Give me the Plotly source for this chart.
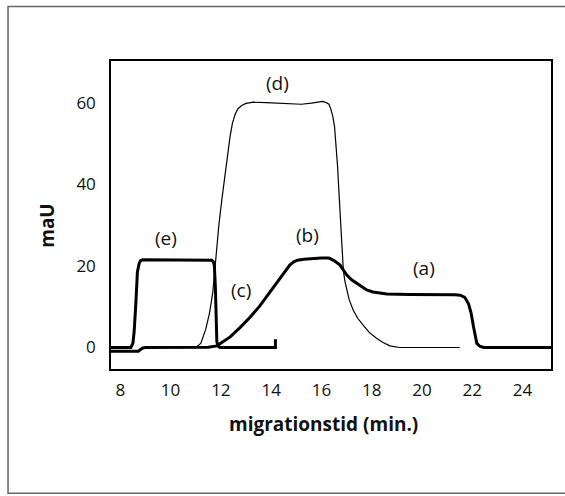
import plotly.graph_objects as go

# --- data ---
abc_x = [7.63, 8.72, 8.8, 8.9, 9.0, 11.0, 11.5, 11.84, 12.1, 12.37, 12.75, 13.16, 13.55, 13.95, 14.35,
         14.74, 14.9, 15.05, 15.3, 15.6, 16.0, 16.3, 16.5, 16.74, 17.0, 17.2, 17.4, 17.6, 17.8, 18.05,
         18.33, 18.6, 19.5, 20.5, 21.3, 21.52, 21.7, 21.85, 21.95, 22.05, 22.12, 22.18, 22.3, 22.45, 25.13]
abc_y = [-0.9, -0.9, -0.5, -0.1, 0, 0, 0.05, 0.4, 1.4, 2.6, 4.8, 7.4, 10.2, 13.6, 17.0,
         20.2, 21.0, 21.4, 21.6, 21.8, 21.9, 21.9, 21.3, 20.2, 17.8, 16.6, 15.7, 14.9, 14.1, 13.6,
         13.3, 13.1, 13.0, 13.0, 12.9, 12.8, 12.3, 10.7, 8.5, 5.0, 2.8, 1.0, 0.3, 0, 0]

e_x = [7.63, 8.42, 8.5, 8.55, 8.62, 8.68, 8.75, 8.81, 8.9, 9.1, 11.5, 11.64, 11.7, 11.74, 11.78,
       11.8, 11.84, 11.9, 11.97, 14.17, 14.17]
e_y = [0, 0, 1.0, 3.8, 11, 18.5, 20.6, 21.3, 21.5, 21.5, 21.5, 21.4, 21.0, 20.1, 15,
       10.3, 1.4, 0.3, 0, 0, 2.0]

d_x = [11.0, 11.2, 11.4, 11.55, 11.68, 11.8, 11.92, 12.04, 12.15, 12.25, 12.36, 12.46, 12.57, 12.68,
       12.83, 13.0, 13.3, 13.8, 14.3, 14.75, 15.2, 15.6, 15.85, 16.05, 16.19, 16.3, 16.38, 16.45,
       16.52, 16.58, 16.64, 16.69, 16.75, 16.8, 16.87, 16.93, 17.0, 17.1, 17.26, 17.45, 17.66, 17.9,
       18.19, 18.45, 18.72, 19.1, 21.5]
d_y = [0, 1.0, 4.5, 8.5, 13.6, 22, 30, 36.3, 41.5, 46.9, 51.5, 55, 57.2, 58.5,
       59.3, 59.8, 60.1, 60.0, 59.8, 59.6, 59.6, 59.9, 60.2, 60.3, 60.0, 59.6, 58.3, 56.7,
       54.2, 50.2, 44.5, 38.8, 31, 26, 19, 16.3, 14.1, 11.8, 9.2, 7.1, 5.5, 3.7,
       2.25, 1.2, 0.4, 0, 0]

label_text = ["(d)", "(e)", "(b)", "(a)", "(c)"]
label_x = [14.27, 9.8, 15.45, 20.06, 12.79]
label_y = [64.8, 26.8, 27.6, 19.4, 14.1]

x_ticks = [8, 10, 12, 14, 16, 18, 20, 22, 24]
y_ticks = [0, 20, 40, 60]

FONT = "Open Sans"
INK = "#111"

fig = go.Figure()
fig.add_trace(go.Scatter(x=d_x, y=d_y, mode="lines",
                         line=dict(color="black", width=1.2), hoverinfo="skip"))
fig.add_trace(go.Scatter(x=abc_x, y=abc_y, mode="lines",
                         line=dict(color="black", width=3), hoverinfo="skip"))
fig.add_trace(go.Scatter(x=e_x, y=e_y, mode="lines",
                         line=dict(color="black", width=3), hoverinfo="skip"))

annotations = []
for t, x, y in zip(label_text, label_x, label_y):
    annotations.append(dict(x=x, y=y, xref="x", yref="y", text=t, showarrow=False,
                            xanchor="center", yanchor="middle",
                            font=dict(family=FONT, size=19, color=INK)))
annotations.append(dict(x=0.484, y=-0.1786, xref="paper", yref="paper",
                        text="<b>migrationstid (min.)</b>", showarrow=False,
                        xanchor="center", yanchor="middle",
                        font=dict(family=FONT, size=19, color=INK)))
annotations.append(dict(x=-0.146, y=0.4675, xref="paper", yref="paper",
                        text="<b>maU</b>", showarrow=False, textangle=-90,
                        xanchor="center", yanchor="middle",
                        font=dict(family=FONT, size=19, color=INK)))

fig.update_layout(
    width=565, height=496,
    margin=dict(l=111, r=14, t=61, b=127),
    paper_bgcolor="white", plot_bgcolor="white",
    showlegend=False,
    font=dict(family=FONT, size=17, color=INK),
    annotations=annotations,
    shapes=[dict(type="rect", xref="paper", yref="paper",
                 x0=-0.234, x1=1.06, y0=-0.4036, y1=1.177,
                 line=dict(color="#666", width=1.5), layer="below")],
    xaxis=dict(range=[7.63, 25.13], tickvals=x_ticks, ticktext=[str(v) for v in x_ticks],
               showline=True, mirror=True, linecolor="black", linewidth=1.5,
               showgrid=False, zeroline=False, ticks="", ticklabelstandoff=5,
               tickfont=dict(size=17)),
    yaxis=dict(range=[-5.27, 70.2], tickvals=y_ticks, ticktext=[str(v) for v in y_ticks],
               showline=True, mirror=True, linecolor="black", linewidth=1.5,
               showgrid=False, zeroline=False, ticks="", ticklabelstandoff=10,
               tickfont=dict(size=17)),
)

fig.write_html("out.html", config={"displayModeBar": False},
               post_script="document.body.style.margin='0';document.body.style.overflow='hidden';")
